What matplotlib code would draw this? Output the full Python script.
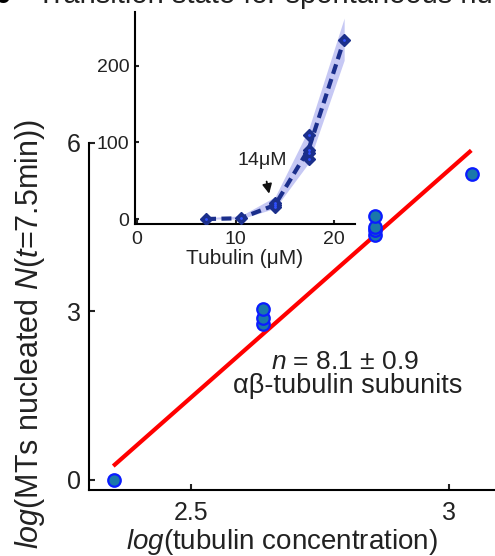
import numpy as np
import matplotlib
matplotlib.use('Agg')
import matplotlib.pyplot as plt

plt.rcParams['font.family'] = ['Liberation Sans', 'DejaVu Sans']
plt.rcParams['mathtext.fontset'] = 'custom'
plt.rcParams['mathtext.rm'] = 'Liberation Sans'
plt.rcParams['mathtext.it'] = 'Liberation Sans:italic'

# inset data: MTs nucleated vs tubulin concentration (uM)
tub_conc = [7.0, 10.5, 14.0, 14.0, 14.0, 17.4, 17.4, 17.4, 17.4, 21.0]
mt_count = [0, 1, 16, 18, 21, 78, 86, 90, 110, 234]
band_x = [7.0, 10.5, 14.0, 17.4, 21.0]
band_lo = [0, 0, 14, 73, 207]
band_hi = [2, 4, 29, 117, 262]

# fit on log-log data
fit_slope = 8.1
fit_intercept = -18.78
fit_x = [2.352, 3.04]

navy = '#1b2f8c'
txt = '#222222'

fig = plt.figure(figsize=(4.95, 5.56), dpi=100)

# ---- main axes ----
ax = fig.add_axes([89/495, 1 - 490/556, 1 - 89/495, (490 - 143)/556])
conc = np.array(tub_conc)
cnt = np.array(mt_count)
keep = cnt > 0
lx = np.log(conc[keep])
ly = np.log(cnt[keep])
fx = np.array(fit_x)
ax.plot(fx, fit_slope * fx + fit_intercept, color='#ff0000', lw=3, zorder=2)
ax.plot(lx, ly, 'o', ms=9, mfc='#1a78aa', mec='#0a1cff', mew=1.6, zorder=3)
ax.set_xlim(2.302, 3.089)
ax.set_ylim(-0.18, 6.0)
ax.set_xticks([2.5, 3])
ax.set_xticklabels(['2.5', '3'])
ax.set_yticks([0, 3, 6])
for s in ['top', 'right']:
    ax.spines[s].set_visible(False)
for s in ['left', 'bottom']:
    ax.spines[s].set_linewidth(1.5)
ax.tick_params(direction='in', length=4, width=1.5, labelsize=18, colors=txt)
ax.tick_params(axis='x', pad=8)
ax.tick_params(axis='y', pad=6)

# fit annotation
fig.text(345/495, 1 - 362/556, r'$\mathit{n}\text{ = 8.1 ± 0.9}$', fontsize=19,
         ha='center', va='center', color=txt)
fig.text(348/495, 1 - 386/556, 'αβ-tubulin subunits', fontsize=19.5,
         ha='center', va='center', color=txt)

# axis labels
fig.text(282/495, 1 - 542/556, r'$\mathit{log}\mathrm{(tubulin\ concentration)}$',
         fontsize=20, color=txt, ha='center', va='center')
fig.text(30/495, 1 - 334/556,
         r'$\mathit{log}\mathrm{(MTs\ nucleated\ }\mathit{N}\mathrm{(}\mathit{t}\text{=7.5min))}$',
         fontsize=22, color=txt, ha='center', va='center', rotation=90)

# ---- inset ----
ins = fig.add_axes([135/495, 1 - 224/556, (355 - 135)/495, (224 - 12)/556])
ins.patch.set_alpha(0)
ins.fill_between(band_x, band_lo, band_hi, color='#c6c8f4', lw=0, zorder=1)
means = [cnt[conc == c].mean() for c in band_x]
ins.plot(band_x, means, ls=(0, (2.4, 1.3)), color=navy, lw=3, zorder=2)
ins.plot(tub_conc, mt_count, 'D', ms=6, mfc=navy, mec=navy, zorder=3)
ins.plot(tub_conc, mt_count, '.', ms=2, color='#3050ff', zorder=4)
ins.set_xlim(-0.2, 22.1)
ins.set_ylim(-6.5, 270)
ins.set_xticks([0, 10, 20])
ins.set_yticks([0, 100, 200])
for s in ['top', 'right']:
    ins.spines[s].set_visible(False)
for s in ['left', 'bottom']:
    ins.spines[s].set_linewidth(1.5)
ins.tick_params(direction='in', length=3, width=1.5, labelsize=14, colors=txt)
ins.tick_params(axis='x', pad=5)
ins.tick_params(axis='y', pad=4)
ins.set_xlabel('Tubulin (μM)', fontsize=15, color=txt, labelpad=1)
ins.annotate('14μM', xy=(13.4, 33), xytext=(12.7, 76), fontsize=14, ha='center', va='center',
             color=txt,
             arrowprops=dict(arrowstyle='-|>', color='#111111', lw=1.3,
                             mutation_scale=14, shrinkA=7, shrinkB=0))

# ---- cropped header ----
fig.text(37/495, 1 - 3/556, 'Transition state for spontaneous nucleation', fontsize=21,
         ha='left', va='baseline', color=txt)
fig.text(-0.02, 1 - 3/556, 'b', fontsize=26, fontweight='bold', ha='left', va='baseline')

fig.savefig('out.png', dpi=100)
